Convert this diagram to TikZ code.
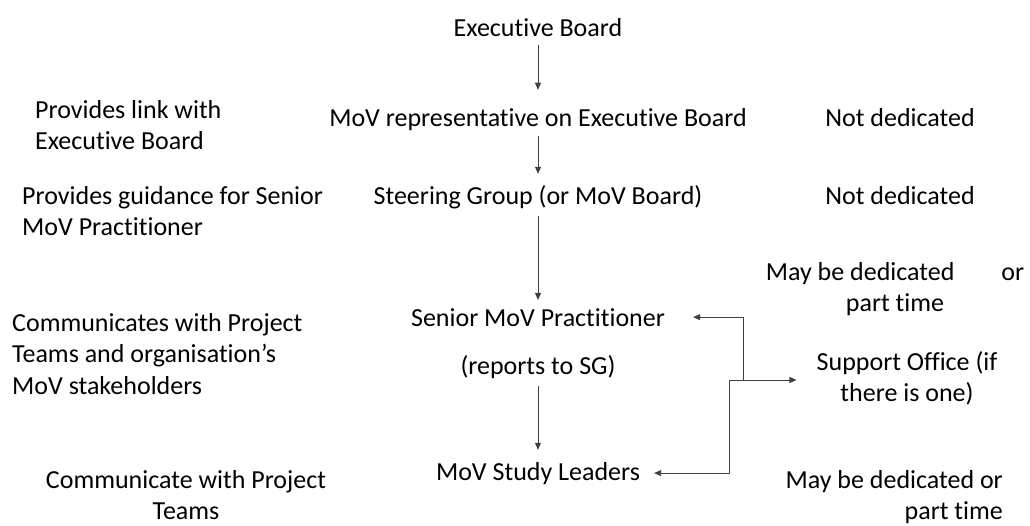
\documentclass[tikz,border=0pt]{standalone}
\usepackage{fontspec}
\setmainfont{Carlito}[Ligatures=NoCommon]
\usetikzlibrary{arrows.meta,%
		calc,%
		positioning}

\begin{document}
\begin{tikzpicture}[x=1pt,y=-1pt,
  every node/.style={inner sep=0pt,font=\fontsize{26}{31.5}\selectfont},
  testo/.style={anchor=base},
  freccia/.style={draw=black!75,line width=0.9pt,-{Triangle[length=7pt,width=6pt]}}]

  \useasboundingbox (0,0) rectangle (1030,525);%area del disegno

  % colonna centrale
  \node [testo] (exec) at (538,36) {Executive Board};%il consiglio
  \node [testo] (rep) at (538,126) {MoV representative on Executive Board};
  \node [testo] (steer) at (538,204) {Steering Group (or MoV Board)};
  \node [testo] (senior) at (538,326) {Senior MoV Practitioner};
  \node [testo] (reports) at (538,374) {(reports to SG)};
  \node [testo] (leaders) at (538,480) {MoV Study Leaders};

  % colonna sinistra (base = ultima riga)
  \node [testo,anchor=base west,align=left] (link) at (35,149.5) {Provides link with\\Executive Board};
  \node [testo,anchor=base west,align=left] (guide) at (22,235.5) {Provides guidance for Senior\\MoV Practitioner};
  \node [testo,anchor=base west,align=left] (comm) at (12,394) {Communicates with Project\\Teams and organisation’s\\MoV stakeholders};
  \node [testo,align=center] (commteams) at (186,519.5) {Communicate with Project\\Teams};

  % colonna destra
  \node [testo] (nd1) at (900,126) {Not dedicated};
  \node [testo] (nd2) at (900,204) {Not dedicated};
  \node [testo,align=center] (may1) at (895,311.5) {May be dedicated\hspace{47pt}or\\part time};
  \node [testo,align=center] (support) at (907,401.5) {Support Office (if\\there is one)};
  \node [testo,anchor=base east,align=right] (may2) at (1003,519.5) {May be dedicated or\\part time};

  % frecce verticali
  \draw [freccia,shorten <=9pt,shorten >=18pt] (exec) -- (rep);
  \draw [freccia,shorten <=6pt,shorten >=11pt] (rep) -- (steer);
  \draw [freccia,shorten <=7pt,shorten >=8pt] (steer) -- (senior);
  \draw [freccia,shorten <=8pt,shorten >=12pt] (reports) -- (leaders);

  % collegamenti con il Support Office
  \coordinate (jct) at (729,380);%incrocio basso
  \coordinate (jct2) at (743,380);%incrocio alto
  \draw [freccia,shorten >=20pt] (jct) -- (jct -| support.west);
  \draw [freccia,shorten >=28pt] (jct2) |- (senior);
  \draw [freccia,shorten >=14pt] (jct) |- (leaders);
\end{tikzpicture}
\end{document}
